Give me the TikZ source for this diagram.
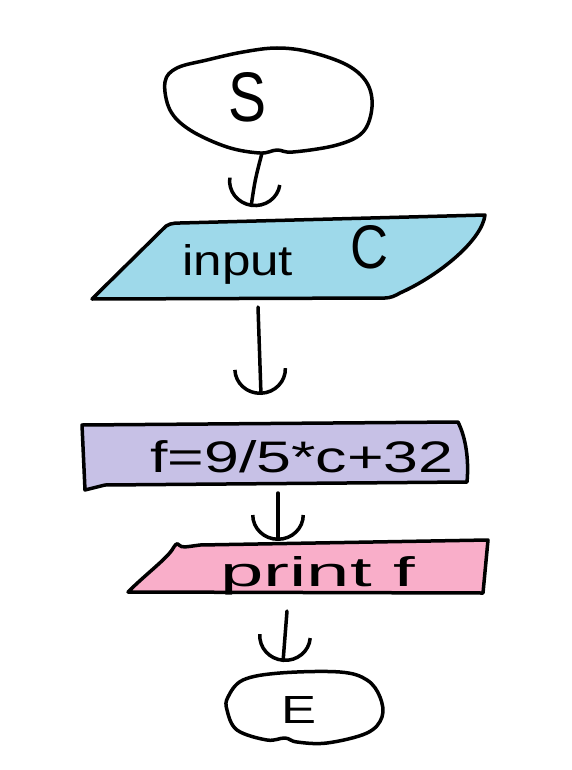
\documentclass[tikz,border=0pt]{standalone}
\usepackage{fontspec}
\setmainfont{Liberation Sans}
\usetikzlibrary{arrows.meta}
\definecolor{inblue}{HTML}{9ED9EA}
\definecolor{procpurple}{HTML}{C7C1E6}
\definecolor{outpink}{HTML}{F9AEC9}
\tikzset{
  pen/.style={line width=3.5pt, line cap=round, line join=round, black},
  lbl/.style={inner sep=0pt, anchor=base west},
  flow/.style={pen, -{Arc Barb[length=26pt, width=54pt, line width=3.5pt]}},
}
\begin{document}
\begin{tikzpicture}[x=1pt, y=-1pt]
\useasboundingbox (0,0) rectangle (571,770);

% start terminal
\draw[pen] plot[smooth cycle, tension=0.6] coordinates {
 (165,82) (170,110) (190,130) (227,147) (260,153) (277,150) (293,152)
 (337,145) (363,132) (372,107) (367,83) (347,65) (310,52) (277,48)
 (243,52) (207,60) (177,68)};
\node[lbl] (S) at (228,122) {\resizebox{38pt}{49pt}{S}};

% input
\draw[pen, fill=inblue] (92,299) -- (163,229) .. controls (167,224) and (172,223) .. (180,223)
  -- (485,215) .. controls (482,240) and (440,275) .. (400,293)
  .. controls (395,296) and (390,298) .. (385,298) -- cycle;
\node[lbl] (inp) at (182,275) {\resizebox{111pt}{31pt}{input}};
\node[lbl] (C) at (350,268) {\resizebox{38pt}{43pt}{C}};

% process
\draw[pen, fill=procpurple] (82,425) -- (458,422) .. controls (466,438) and (469,460) .. (467,482)
  -- (105,485) -- (85,490) -- cycle;
\node[lbl] (calc) at (150,472) {\resizebox{303pt}{32pt}{f=9/5*c+32}};

% output
\draw[pen, fill=outpink] (128,592) .. controls (145,575) and (165,560) .. (172,550)
  .. controls (175,545) and (177,542) .. (179,545)
  .. controls (182,548) and (185,547) .. (200,545) -- (488,540) -- (483,593) -- cycle;
\node[lbl] (prt) at (220,586) {\resizebox{195pt}{30pt}{print f}};

% end terminal
\draw[pen] plot[smooth cycle, tension=0.6] coordinates {
 (228,697) (243,680) (280,673) (340,672) (367,680) (380,697) (382,717)
 (367,733) (327,743) (297,742) (285,738) (267,740) (237,730) (227,710)};
\node[lbl] (E) at (281,723) {\resizebox{35pt}{27pt}{E}};

% connectors
\coordinate (a1s) at (262,153);
\coordinate (a1e) at (251,207);
\coordinate (a2s) at (258,307);
\coordinate (a2e) at (261,395);
\coordinate (a3s) at (278,493);
\coordinate (a3e) at (278,541);
\coordinate (a4s) at (287,611);
\coordinate (a4e) at (283,662);
\draw[flow] (a1s) .. controls (255,180) .. (a1e);
\draw[flow] (a2s) -- (a2e);
\draw[flow] (a3s) -- (a3e);
\draw[flow] (a4s) -- (a4e);
\end{tikzpicture}
\end{document}
